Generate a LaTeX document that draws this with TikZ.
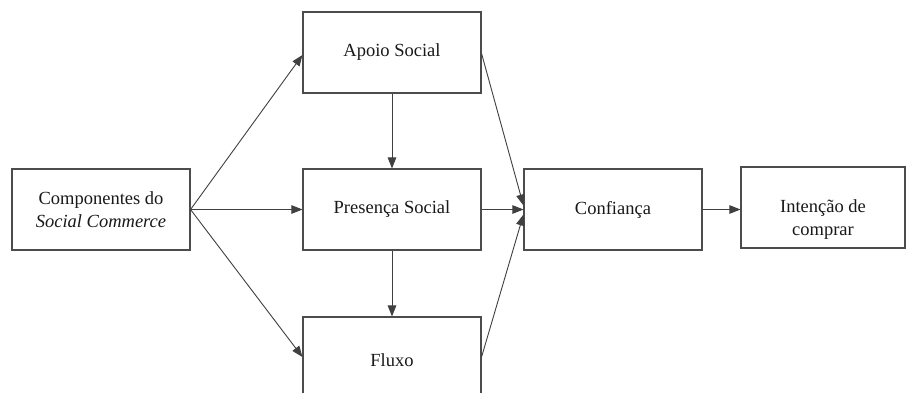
\documentclass[tikz,border=0pt]{standalone}
\usepackage{fontspec}
\setmainfont{Liberation Serif}
\usetikzlibrary{arrows.meta}
\begin{document}
\begin{tikzpicture}[x=1pt,y=-1pt,
  box/.style={draw=black!70,line width=1.1pt,rectangle,minimum width=178pt,minimum height=81pt,
    inner sep=0pt,align=center,font=\fontsize{18.5}{23}\selectfont,text=black!90},
  txt/.style={inner sep=0pt,align=center,font=\fontsize{18.5}{23}\selectfont,text=black!90},
  conn/.style={draw=black!75,line width=0.9pt,-{Triangle[length=11pt,width=8.5pt]}}]
\useasboundingbox (0,0) rectangle (907,392);
\fill[white] (0,0) rectangle (907,392);

% boxes
\node[box] (comp) at (101,209.5) {Componentes do\\\textit{Social Commerce}};
\node[box] (apoio) at (392,52.5) {Apoio Social};
\node[box] (pres) at (392,209.5) {Presença Social};
\node[box,minimum height=82pt] (fluxo) at (392,358) {};
\node[txt] (fluxotxt) at (392,360) {Fluxo};
\node[box] (conf) at (613,209.5) {Confiança};
\node[box,minimum width=164pt] (int) at (823,207.5) {};
\node[txt] (inttxt) at (823,219.5) {Intenção de\\comprar};

% connectors
\draw[conn] (comp.east) -- ([yshift=-2.5pt]apoio.west);
\draw[conn] (comp.east) -- (pres.west);
\draw[conn] (comp.east) -- ([yshift=1pt]fluxo.west);
\draw[conn] (apoio.south) -- (pres.north);
\draw[conn] (pres.south) -- (fluxo.north);
\draw[conn] ([yshift=-1pt]apoio.east) -- ([yshift=4pt]conf.west);
\draw[conn] (pres.east) -- (conf.west);
\draw[conn] ([yshift=1pt]fluxo.east) -- ([yshift=-5pt]conf.west);
\draw[conn] (conf.east) -- (conf.east -| int.west);
\end{tikzpicture}
\end{document}
